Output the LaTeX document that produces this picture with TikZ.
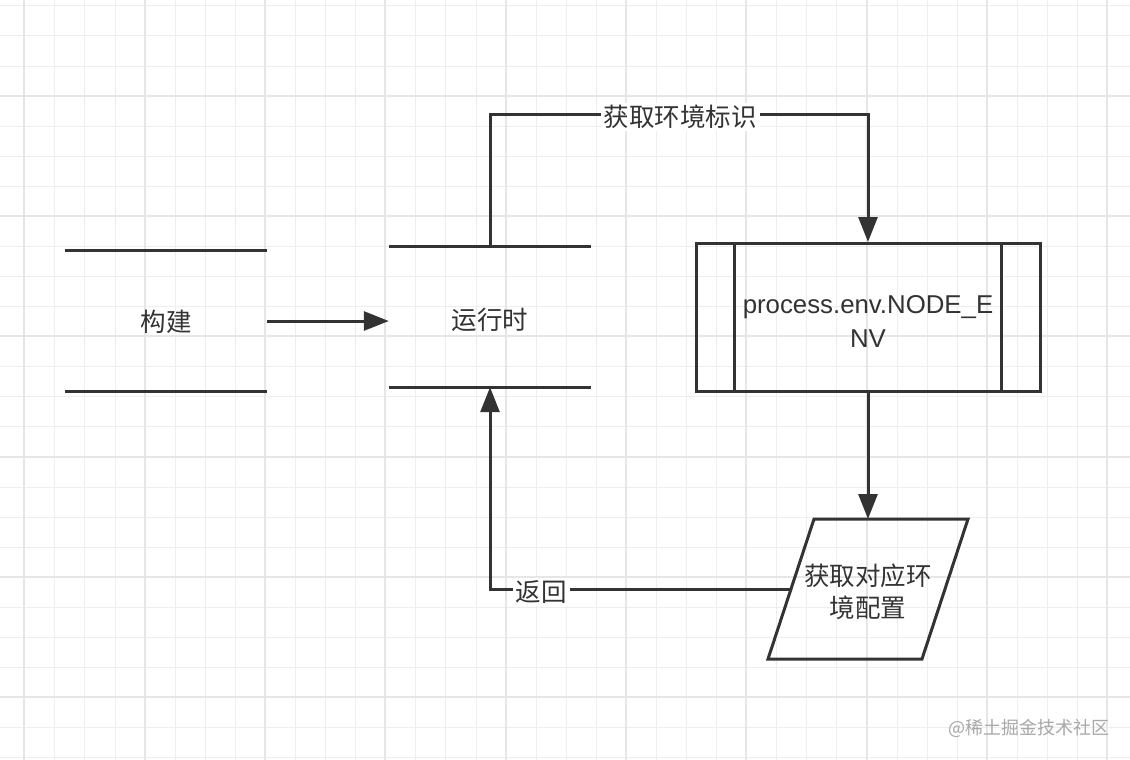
\documentclass[tikz,border=0pt]{standalone}
\usepackage{fontspec}
\setmainfont{Liberation Sans}
\newfontfamily\cjk{Noto Sans CJK SC}
\usetikzlibrary{arrows.meta}
\definecolor{ink}{HTML}{333333}
\definecolor{gridminor}{HTML}{EEEEEE}
\definecolor{gridmajor}{HTML}{E6E6E6}
\definecolor{wm}{HTML}{A8A8A8}
\tikzset{
  line/.style={draw=ink, line width=3pt},
  arr/.style={line, -{Triangle[length=25pt,width=19pt]}},
  txt/.style={text=ink, font=\cjk\fontsize{25.5}{33}\selectfont, inner sep=0pt},
  lbl/.style={txt, fill=white, inner xsep=3pt, inner ysep=2pt},
  slot/.style={inner sep=0pt},
}
\begin{document}
\begin{tikzpicture}[x=1pt, y=-1pt]
\useasboundingbox (0,0) rectangle (1130,760);
\fill[white] (0,0) rectangle (1130,760);
% grid
\foreach \i in {0,...,38} { \pgfmathsetmacro\gx{round(-5.78+30.08*\i)+0.5} \draw[gridminor, line width=1pt] (\gx,0) -- (\gx,760); }
\foreach \i in {0,...,26} { \pgfmathsetmacro\gy{round(5.36+30.08*\i)+0.5} \draw[gridminor, line width=1pt] (0,\gy) -- (1130,\gy); }
\foreach \i in {0,...,9} { \pgfmathsetmacro\gx{round(24.3+120.32*\i)} \draw[gridmajor, line width=2pt] (\gx,0) -- (\gx,760); }
\foreach \i in {0,...,6} { \pgfmathsetmacro\gy{round(-24.7+120.32*\i)} \draw[gridmajor, line width=2pt] (0,\gy) -- (1130,\gy); }

% 构建 (data store)
\node[slot, minimum width=202pt, minimum height=140pt] (build) at (166,321) {};
\node[txt] (buildt) at (166,322) {构建};
\draw[line] (build.north west) -- (build.north east);
\draw[line] (build.south west) -- (build.south east);

% 运行时 (data store)
\node[slot, minimum width=202pt, minimum height=140pt] (run) at (490,317) {};
\node[txt] (runt) at (490,320) {运行时};
\draw[line] (run.north west) -- (run.north east);
\draw[line] (run.south west) -- (run.south east);

% process box
\node[slot, line, minimum width=344pt, minimum height=148pt] (proc) at (868,317.5) {};
\draw[line] ([xshift=40pt]proc.north west) -- ([xshift=40pt]proc.south west);
\draw[line] ([xshift=-40pt]proc.north east) -- ([xshift=-40pt]proc.south east);
\node[txt, font=\fontsize{25.8}{34}\selectfont, align=center] (proct) at (868,321) {process.env.NODE\_E\\NV};

% parallelogram
\coordinate (cfg) at (868,589);
\draw[line] (814,519) -- (968,519) -- (922,659) -- (768,659) -- cycle;
\coordinate (cfgtop) at (868,519);
\coordinate (cfgL) at (791,589);
\node[txt, align=center, font=\cjk\fontsize{25.5}{32}\selectfont] (cfgt) at (868,592) {获取对应环\\境配置};

% connectors
\draw[arr] (build.east) -- (build.east -| run.west);
\coordinate (topy) at (0,114);
\draw[arr] (run.north) -- (run.north |- topy) -| (proc.north);
\node[lbl] (l1) at (680,117) {获取环境标识};
\draw[arr] (proc.south) -- (cfgtop);
\draw[arr] (cfgL) -| (run.south);
\node[lbl] (l2) at (541,592) {返回};

% watermark
\node[text=wm, font=\cjk\fontsize{18}{20}\selectfont, inner sep=0pt] (wmk) at (1029,728) {@稀土掘金技术社区};
\end{tikzpicture}
\end{document}
